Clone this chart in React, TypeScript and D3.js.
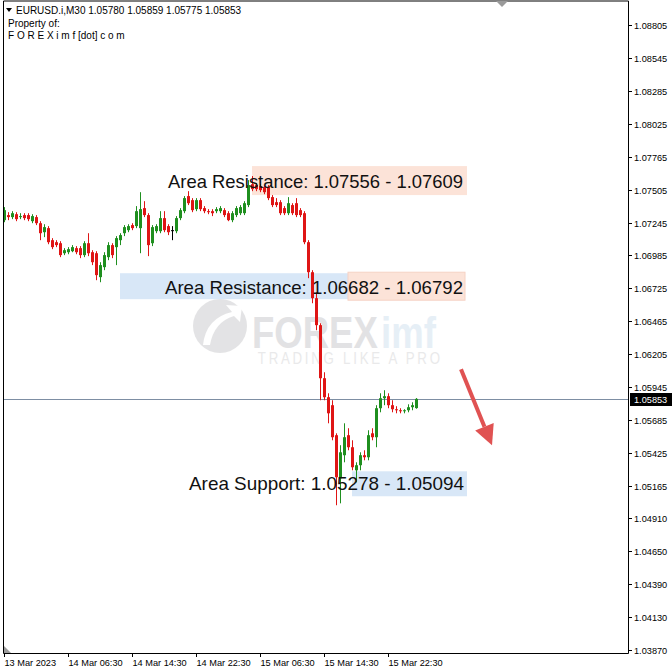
import React, { useEffect, useRef } from 'react';
import * as d3 from 'd3';

// EURUSD.i M30 candles, 13 Mar 22:30 onwards (bar index 0..103)
const opens = [
  1.07264, 1.07304, 1.07288, 1.07311, 1.07288, 1.07304, 1.07304, 1.07256, 1.07288, 1.0724,
  1.07169, 1.07201, 1.07106, 1.0709, 1.07082, 1.07003, 1.07011, 1.07019, 1.07043, 1.07043,
  1.06988, 1.07082, 1.07011, 1.07003, 1.06814, 1.06893, 1.06972, 1.07067, 1.07051, 1.07106,
  1.07161, 1.07185, 1.07225, 1.07217, 1.07201, 1.07359, 1.07304, 1.07082, 1.07177, 1.07177,
  1.0728, 1.07217, 1.07185, 1.07177, 1.0728, 1.07335, 1.07454, 1.07422, 1.07351, 1.07422,
  1.07359, 1.07335, 1.07335, 1.07335, 1.07335, 1.07343, 1.07319, 1.07264, 1.07304, 1.07319,
  1.07319, 1.07383, 1.07548, 1.07541, 1.07533, 1.07525, 1.07525, 1.07446, 1.07406, 1.07406,
  1.07359, 1.07319, 1.07383, 1.07398, 1.07343, 1.07319, 1.0709, 1.06853, 1.06648, 1.06435,
  1.06016, 1.05866, 1.05803, 1.05566, 1.05226, 1.05408, 1.05566, 1.05471, 1.05289, 1.05329,
  1.05408, 1.05392, 1.05581, 1.0555, 1.05779, 1.05858, 1.05874, 1.05803, 1.05771, 1.05763,
  1.05755, 1.05763, 1.05787, 1.0578,
];
const highs = [
  1.07367, 1.07327, 1.07335, 1.07327, 1.07319, 1.07319, 1.07319, 1.07311, 1.07304, 1.07256,
  1.07232, 1.07217, 1.07122, 1.07106, 1.07098, 1.07043, 1.07051, 1.07067, 1.07059, 1.07059,
  1.07098, 1.07161, 1.07027, 1.07019, 1.06932, 1.07011, 1.0709, 1.07082, 1.07138, 1.07161,
  1.07225, 1.07232, 1.0724, 1.07375, 1.07485, 1.07414, 1.07319, 1.07225, 1.07232, 1.07335,
  1.07335, 1.07232, 1.07217, 1.07296, 1.07359, 1.07454, 1.07493, 1.07438, 1.07438, 1.07438,
  1.07375, 1.07351, 1.07351, 1.07367, 1.07375, 1.07359, 1.07335, 1.07335, 1.07375, 1.07383,
  1.07414, 1.0758, 1.07612, 1.07556, 1.07548, 1.07541, 1.07541, 1.07462, 1.07438, 1.07422,
  1.07375, 1.07446, 1.07398, 1.07438, 1.07359, 1.07335, 1.07106, 1.06869, 1.06695, 1.0645,
  1.06063, 1.05897, 1.05842, 1.05581, 1.05487, 1.0566, 1.05621, 1.05526, 1.05352, 1.05431,
  1.05447, 1.05605, 1.05621, 1.05803, 1.05897, 1.05921, 1.05897, 1.05842, 1.05795, 1.05779,
  1.05771, 1.0581, 1.05826, 1.05859,
];
const lows = [
  1.07248, 1.07264, 1.07272, 1.07256, 1.07272, 1.07264, 1.07256, 1.0724, 1.07225, 1.07106,
  1.0713, 1.07074, 1.07035, 1.07051, 1.06972, 1.06988, 1.06995, 1.07011, 1.06995, 1.06964,
  1.06972, 1.0698, 1.06909, 1.0679, 1.06774, 1.06869, 1.06948, 1.06964, 1.06909, 1.07067,
  1.07138, 1.07169, 1.07185, 1.07201, 1.07003, 1.07288, 1.0698, 1.07059, 1.07161, 1.07161,
  1.07169, 1.07146, 1.07106, 1.07161, 1.07264, 1.07319, 1.07383, 1.07327, 1.07335, 1.07335,
  1.07319, 1.07311, 1.07296, 1.07319, 1.07319, 1.07288, 1.07256, 1.07248, 1.07288, 1.07304,
  1.07304, 1.07367, 1.07493, 1.07493, 1.07485, 1.07469, 1.07422, 1.07367, 1.07367, 1.07304,
  1.07304, 1.07304, 1.07304, 1.07288, 1.07288, 1.07074, 1.06806, 1.06608, 1.06395, 1.05842,
  1.05842, 1.0566, 1.05526, 1.05013, 1.05028, 1.05352, 1.05447, 1.05289, 1.05194, 1.05289,
  1.05368, 1.05368, 1.05526, 1.05471, 1.05747, 1.05803, 1.05779, 1.05747, 1.05739, 1.05739,
  1.05739, 1.05747, 1.05763, 1.05775,
];
const closes = [
  1.07343, 1.07288, 1.07319, 1.07272, 1.07296, 1.0728, 1.07272, 1.07296, 1.0724, 1.07161,
  1.07209, 1.0709, 1.07051, 1.07067, 1.06988, 1.07027, 1.07035, 1.07051, 1.07011, 1.06988,
  1.07082, 1.07003, 1.06932, 1.0683, 1.06909, 1.06988, 1.07067, 1.06988, 1.07122, 1.07146,
  1.07209, 1.07217, 1.07201, 1.07335, 1.07351, 1.07304, 1.07067, 1.07209, 1.07217, 1.0728,
  1.07185, 1.07169, 1.07185, 1.0728, 1.07343, 1.07438, 1.07398, 1.07343, 1.07422, 1.07351,
  1.07335, 1.07327, 1.07319, 1.07351, 1.07359, 1.07304, 1.07264, 1.07319, 1.07359, 1.07367,
  1.07398, 1.07541, 1.07509, 1.07509, 1.07501, 1.07485, 1.07438, 1.07383, 1.07383, 1.07319,
  1.07319, 1.07398, 1.07319, 1.07304, 1.07304, 1.0709, 1.06853, 1.06648, 1.06435, 1.06016,
  1.05866, 1.05739, 1.0555, 1.05234, 1.05431, 1.0555, 1.05471, 1.05313, 1.05329, 1.05408,
  1.05392, 1.05566, 1.0555, 1.05779, 1.05858, 1.05874, 1.05803, 1.05771, 1.05763, 1.05755,
  1.05763, 1.05787, 1.05803, 1.05853,
];

const priceTicks = [
  '1.08805', '1.08545', '1.08285', '1.08025', '1.07765', '1.07505', '1.07245', '1.06985', '1.06725', '1.06465',
  '1.06205', '1.05945', '1.05685', '1.05425', '1.05165', '1.04910', '1.04650', '1.04390', '1.04130', '1.03870',
];
const timeTickBars = [0, 16, 32, 48, 64, 80, 96];
const timeTickLabels = ['13 Mar 2023', '14 Mar 06:30', '14 Mar 14:30', '14 Mar 22:30', '15 Mar 06:30', '15 Mar 14:30', '15 Mar 22:30'];

const lastPrice = 1.05853;
const headerLines = ['EURUSD.i,M30  1.05780 1.05859 1.05775 1.05853', 'Property of:', 'F O R E X i m f [dot] c o m'];

// zone boxes
const zoneFrom = [62, 29, 86, 87];
const zoneTo = [115.75, 86, 115.25, 115.75];
const zoneTop = [1.07691, 1.06845, 1.06853, 1.05281];
const zoneBottom = [1.07462, 1.0664, 1.06632, 1.05084];
const zoneKind = ['res', 'sup', 'res', 'sup'];

const labelTexts = ['Area Resistance: 1.07556 - 1.07609', 'Area Resistance: 1.06682 - 1.06792', 'Area Support: 1.05278 - 1.05094'];
const labelBar = [114.75, 114.75, 115];
const labelPrice = [1.07572, 1.06735, 1.05186];
const labelWidth = [295, 298, 275];

// red arrow annotation (bar, price)
const arrowFrom = [114.25, 1.06087];
const arrowTo = [122, 1.05487];

const FONT = "'Liberation Sans', Arial, sans-serif";
const W = 672;
const H = 671;

const App: React.FC = () => {
  const svgRef = useRef<SVGSVGElement | null>(null);

  useEffect(() => {
    const svg = d3.select(svgRef.current);
    svg.selectAll('*').remove();

    const x = d3.scaleLinear().domain([0, 156]).range([4, 628]);
    const y = d3.scaleLinear().domain([1.0387, 1.08805]).range([650, 25]);
    const left = 3, right = 628, top = 1, bottom = 653;

    svg.append('rect').attr('width', W).attr('height', H).attr('fill', '#fff');

    // watermark (one text element, condensed)
    const wm = svg.append('g').attr('opacity', 0.5);
    wm.append('circle').attr('cx', 220).attr('cy', 326).attr('r', 27).attr('fill', '#c9c9cc');
    wm.append('path')
      .attr('d', 'M203 345 Q206 318 232 312 L226 305 L242 306 L240 322 L234 316 Q214 322 210 345 Z')
      .attr('fill', '#fff');
    const wt = wm.append('text').attr('transform', 'translate(252,348) scale(0.83,1)').attr('font-family', FONT);
    wt.append('tspan').attr('x', 0).attr('y', 0).attr('font-size', 44).attr('font-weight', 700)
      .attr('fill', '#c6c6ca').text('FOREX');
    wt.append('tspan').attr('dx', 4).attr('font-size', 44).attr('font-weight', 700)
      .attr('fill', '#cfe0ef').text('imf');
    wt.append('tspan').attr('x', 7).attr('y', 16).attr('font-size', 16).attr('letter-spacing', 3.3)
      .attr('fill', '#d4d4d6').text('TRADING LIKE A PRO');

    // zones
    zoneFrom.forEach((f, i) => {
      svg.append('rect')
        .attr('x', x(f)).attr('y', y(zoneTop[i]))
        .attr('width', x(zoneTo[i]) - x(f)).attr('height', y(zoneBottom[i]) - y(zoneTop[i]))
        .attr('fill', zoneKind[i] === 'res' ? '#fce3d8' : '#d8e7f7')
        .attr('stroke', zoneKind[i] === 'res' && i === 2 ? '#f6d2c4' : 'none')
        .attr('stroke-width', 1);
    });

    // current price line
    const py = Math.round(y(lastPrice)) + 0.5;
    svg.append('line').attr('x1', left).attr('x2', right).attr('y1', py).attr('y2', py)
      .attr('stroke', '#7d8ea3').attr('stroke-width', 1);

    // candles
    const bull = '#1f8f1f';
    const bear = '#df1515';
    const g = svg.append('g');
    closes.forEach((c, i) => {
      const o = opens[i];
      const cx = x(i) + 0.5;
      const col = c > o ? bull : c < o ? bear : '#000';
      g.append('line').attr('x1', cx).attr('x2', cx)
        .attr('y1', y(highs[i])).attr('y2', y(lows[i]))
        .attr('stroke', col).attr('stroke-width', 1);
      const yt = y(Math.max(o, c));
      const hgt = Math.max(1, y(Math.min(o, c)) - yt);
      g.append('rect').attr('x', cx - 1.5).attr('y', yt).attr('width', 3).attr('height', hgt).attr('fill', col);
    });

    // labels
    labelTexts.forEach((t, i) => {
      svg.append('text').attr('x', x(labelBar[i])).attr('y', y(labelPrice[i]))
        .attr('text-anchor', 'end').attr('dominant-baseline', 'central')
        .attr('font-family', FONT).attr('font-size', 18.5)
        .attr('textLength', labelWidth[i]).attr('lengthAdjust', 'spacingAndGlyphs')
        .attr('fill', '#111').text(t);
    });

    // arrow
    const ax1 = x(arrowFrom[0]), ay1 = y(arrowFrom[1]);
    const ax2 = x(arrowTo[0]), ay2 = y(arrowTo[1]);
    const ang = Math.atan2(ay2 - ay1, ax2 - ax1);
    const headLen = 20, headW = 10;
    const bx = ax2 - headLen * Math.cos(ang), by = ay2 - headLen * Math.sin(ang);
    svg.append('line').attr('x1', ax1).attr('y1', ay1).attr('x2', bx).attr('y2', by)
      .attr('stroke', '#e05252').attr('stroke-width', 4);
    svg.append('polygon')
      .attr('points', [
        [ax2, ay2],
        [bx + headW * Math.sin(ang), by - headW * Math.cos(ang)],
        [bx - headW * Math.sin(ang), by + headW * Math.cos(ang)],
      ].map(p => p.join(',')).join(' '))
      .attr('fill', '#e05252');

    // frame
    svg.append('path')
      .attr('d', `M${left + 0.5},${top} V${bottom + 0.5} H${right + 0.5} V${top} H${left + 0.5}`)
      .attr('fill', 'none').attr('stroke', '#000').attr('stroke-width', 1);

    // right price axis
    priceTicks.forEach(t => {
      const ty = Math.round(y(+t)) + 0.5;
      svg.append('line').attr('x1', right).attr('x2', right + 4).attr('y1', ty).attr('y2', ty).attr('stroke', '#000');
      svg.append('text').attr('x', right + 6).attr('y', ty).attr('dominant-baseline', 'central')
        .attr('font-family', FONT).attr('font-size', 9.2).attr('fill', '#000').text(t);
    });
    svg.append('rect').attr('x', right + 2).attr('y', py - 6.5).attr('width', W - right - 2).attr('height', 13).attr('fill', '#000');
    svg.append('text').attr('x', right + 6).attr('y', py).attr('dominant-baseline', 'central')
      .attr('font-family', FONT).attr('font-size', 9.2).attr('fill', '#fff').text(lastPrice.toFixed(5));

    // time axis
    timeTickBars.forEach((b, i) => {
      const tx = x(b) + 0.5;
      svg.append('line').attr('x1', tx).attr('x2', tx).attr('y1', bottom).attr('y2', bottom + 4).attr('stroke', '#000');
      svg.append('text').attr('x', tx).attr('y', 666)
        .attr('font-family', FONT).attr('font-size', 9.2).attr('fill', '#000').text(timeTickLabels[i]);
    });

    // shift markers
    svg.append('polygon').attr('points', '496,1 508,1 502,7').attr('fill', '#9a9a9a');
    svg.append('polygon').attr('points', '4,646 4,653 11,653').attr('fill', '#9a9a9a');

    // header
    svg.append('polygon').attr('points', '6,8 12,8 9,12').attr('fill', '#000');
    headerLines.forEach((t, i) => {
      svg.append('text').attr('x', i === 0 ? 16 : 8).attr('y', 14 + i * 12.5)
        .attr('font-family', FONT).attr('font-size', 10).attr('fill', '#000').text(t);
    });
  }, []);

  return <svg ref={svgRef} width={W} height={H} style={{ position: 'absolute', left: 0, top: 0 }}></svg>;
};

export default App;
